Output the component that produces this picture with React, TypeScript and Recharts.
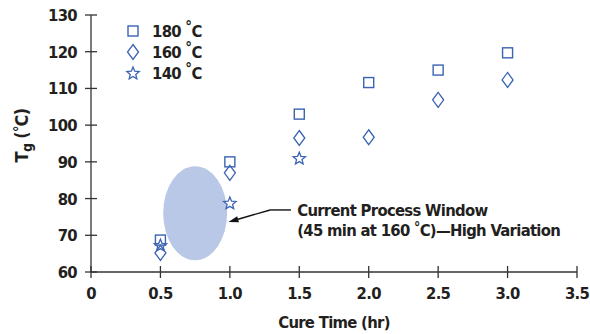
import React from "react";
import {
  ScatterChart,
  Scatter,
  XAxis,
  YAxis,
  ReferenceArea,
  ReferenceLine,
  ReferenceDot,
  Label,
} from "recharts";

// ---- data ----
const cureTimes = [0.5, 1.0, 1.5, 2.0, 2.5, 3.0];
const tg180 = [68.7, 90, 103, 111.6, 115, 119.7];
const tg160 = [65.2, 87, 96.5, 96.7, 106.9, 112.3];
const cureTimes140 = [0.5, 1.0, 1.5];
const tg140 = [67.3, 78.8, 91];

const xTicks = [0, 0.5, 1.0, 1.5, 2.0, 2.5, 3.0, 3.5];
const yTicks = [60, 70, 80, 90, 100, 110, 120, 130];
const seriesNames = ["180", "160", "140"];

// process window (ellipse bounds, data units)
const windowX = [0.52, 0.98];
const windowY = [63.2, 88.8];
// arrow path (data units): start, kink, tip
const arrowPts = [
  { x: 1.44, y: 76.9 },
  { x: 1.29, y: 76.9 },
  { x: 0.99, y: 73.6 },
];
const noteAnchor = { x: 1.485, y: 75.2 };
const noteLine1 = "Current Process Window";
const noteLine2a = "(45 min at 160 ";
const noteLine2b = "C)\u2014High Variation";

const d180 = cureTimes.map((x, i) => ({ x, y: tg180[i] }));
const d160 = cureTimes.map((x, i) => ({ x, y: tg160[i] }));
const d140 = cureTimes140.map((x, i) => ({ x, y: tg140[i] }));

const BLUE = "#3b63b3";
const AXIS = "#333333";
const TEXT = "#231f20";
const FONT = "'Liberation Sans Narrow', 'DejaVu Sans Condensed', Arial, sans-serif";
const FS = 16.5;
const LS = -0.7;

const Square = (props: any) => {
  const { cx, cy } = props;
  if (cx == null || cy == null) return null;
  return (
    <rect x={cx - 5} y={cy - 5} width={10} height={10} fill="none" stroke={BLUE} strokeWidth={1.4} />
  );
};

const Diamond = (props: any) => {
  const { cx, cy } = props;
  if (cx == null || cy == null) return null;
  return (
    <polygon
      points={`${cx},${cy - 7.5} ${cx + 5.5},${cy} ${cx},${cy + 7.5} ${cx - 5.5},${cy}`}
      fill="none"
      stroke={BLUE}
      strokeWidth={1.3}
    />
  );
};

const Star = (props: any) => {
  const { cx, cy } = props;
  if (cx == null || cy == null) return null;
  const pts: string[] = [];
  for (let i = 0; i < 10; i++) {
    const r = i % 2 === 0 ? 6.5 : 2.9;
    const a = -Math.PI / 2 + (i * Math.PI) / 5;
    pts.push(`${(cx + r * Math.cos(a)).toFixed(2)},${(cy + 0.5 + r * Math.sin(a)).toFixed(2)}`);
  }
  return <polygon points={pts.join(" ")} fill="none" stroke={BLUE} strokeWidth={1.3} strokeLinejoin="miter" />;
};

const fmtX = (v: number) => (v === 0 ? "0" : v.toFixed(1));

const XTick = (props: any) => {
  const { x, y, payload } = props;
  return (
    <g>
      <line x1={x} x2={x} y1={y - 6} y2={y + 6} stroke={AXIS} strokeWidth={1.3} />
      <text x={x} y={y + 27} textAnchor="middle" fontFamily={FONT} fontWeight="bold" fontSize={FS} letterSpacing={LS} fill={TEXT}>
        {fmtX(payload.value)}
      </text>
    </g>
  );
};

const YTick = (props: any) => {
  const { x, y, payload } = props;
  return (
    <g>
      <line x1={x - 6} x2={x + 6} y1={y} y2={y} stroke={AXIS} strokeWidth={1.3} />
      <text x={x - 14} y={y + 6} textAnchor="end" fontFamily={FONT} fontWeight="bold" fontSize={FS} letterSpacing={LS} fill={TEXT}>
        {payload.value}
      </text>
    </g>
  );
};

const EllipseShape = (props: any) => {
  const { x, y, width, height } = props;
  if (x == null) return null;
  return <ellipse cx={x + width / 2} cy={y + height / 2} rx={Math.abs(width) / 2} ry={Math.abs(height) / 2} fill="#b8c8e6" />;
};

const ArrowShape = (props: any) => {
  const { x1, y1, x2, y2 } = props;
  if (x1 == null) return null;
  const ang = Math.atan2(y2 - y1, x2 - x1);
  const L = 10;
  const W = 3.2;
  const bx = x2 - L * Math.cos(ang);
  const by = y2 - L * Math.sin(ang);
  const px = -Math.sin(ang) * W;
  const py = Math.cos(ang) * W;
  return (
    <g>
      <line x1={x1} y1={y1} x2={bx} y2={by} stroke="#111" strokeWidth={1.4} />
      <polygon points={`${x2},${y2} ${bx + px},${by + py} ${bx - px},${by - py}`} fill="#111" />
    </g>
  );
};

const PlainLine = (props: any) => {
  const { x1, y1, x2, y2 } = props;
  if (x1 == null) return null;
  return <line x1={x1} y1={y1} x2={x2} y2={y2} stroke="#111" strokeWidth={1.4} />;
};

const NoteShape = (props: any) => {
  const { cx, cy } = props;
  if (cx == null) return null;
  return (
    <text x={cx} y={cy} fontFamily={FONT} fontWeight="bold" fontSize={FS} letterSpacing={LS} fill={TEXT}>
      <tspan x={cx}>{noteLine1}</tspan>
      <tspan x={cx} dy={20}>{noteLine2a}</tspan>
      <tspan dy={-4} fontSize={14}>°</tspan>
      <tspan dy={4}>{noteLine2b}</tspan>
    </text>
  );
};

const YLabel = (props: any) => {
  const vb = props.viewBox || {};
  const cx = 28;
  const cy = vb.y + vb.height / 2 - 8;
  return (
    <text
      transform={`translate(${cx},${cy}) rotate(-90)`}
      textAnchor="middle"
      fontFamily={FONT}
      fontWeight="bold"
      fontSize={18}
      letterSpacing={LS}
      fill={TEXT}
    >
      <tspan>T</tspan>
      <tspan dy={4} fontSize={14}>g</tspan>
      <tspan dy={-4}> (</tspan>
      <tspan dy={-4} fontSize={14}>°</tspan>
      <tspan dy={4}>C)</tspan>
    </text>
  );
};

const markerShapes = [Square, Diamond, Star];

const LegendOverlay = () => (
  <svg width={120} height={90} style={{ position: "absolute", left: 120, top: 18 }}>
    {seriesNames.map((n, i) => {
      const S = markerShapes[i];
      const cy = 13 + i * 21;
      return (
        <g key={n}>
          <S cx={13} cy={cy} />
          <text x={32} y={cy + 6} fontFamily={FONT} fontWeight="bold" fontSize={FS} letterSpacing={LS} fill={TEXT}>
            {n + " "}
            <tspan dy={-5} fontSize={15}>°</tspan>
            <tspan dy={5}>C</tspan>
          </text>
        </g>
      );
    })}
  </svg>
);

export default function App() {
  return (
    <div style={{ position: "absolute", left: 0, top: 0, width: 590, height: 334, background: "#fff" }}>
      <ScatterChart width={590} height={334} margin={{ top: 15, right: 13, bottom: 12, left: 31 }}>
        <XAxis
          type="number"
          dataKey="x"
          domain={[0, 3.5]}
          ticks={xTicks}
          interval={0}
          height={50}
          tickSize={0}
          tickMargin={0}
          tickLine={false}
          axisLine={{ stroke: AXIS, strokeWidth: 1.3 }}
          tick={<XTick />}
        >
          <Label
            value="Cure Time (hr)"
            position="insideBottom"
            offset={-6}
            style={{ fontFamily: FONT, fontWeight: "bold", fontSize: FS, letterSpacing: LS, fill: TEXT }}
          />
        </XAxis>
        <YAxis
          type="number"
          dataKey="y"
          domain={[60, 130]}
          ticks={yTicks}
          interval={0}
          width={60}
          tickSize={0}
          tickMargin={0}
          tickLine={false}
          axisLine={{ stroke: AXIS, strokeWidth: 1.3 }}
          tick={<YTick />}
        >
          <Label content={<YLabel />} />
        </YAxis>
        <ReferenceArea
          x1={windowX[0]}
          x2={windowX[1]}
          y1={windowY[0]}
          y2={windowY[1]}
          shape={<EllipseShape />}
          ifOverflow="visible"
        />
        <Scatter name="180" data={d180} shape={<Square />} isAnimationActive={false} />
        <Scatter name="160" data={d160} shape={<Diamond />} isAnimationActive={false} />
        <Scatter name="140" data={d140} shape={<Star />} isAnimationActive={false} />
        <ReferenceLine
          segment={[arrowPts[0], arrowPts[1]]}
          shape={<PlainLine />}
          ifOverflow="visible"
        />
        <ReferenceLine
          segment={[arrowPts[1], arrowPts[2]]}
          shape={<ArrowShape />}
          ifOverflow="visible"
        />
        <ReferenceDot x={noteAnchor.x} y={noteAnchor.y} r={0} shape={<NoteShape />} ifOverflow="visible" />
      </ScatterChart>
      <LegendOverlay />
    </div>
  );
}
